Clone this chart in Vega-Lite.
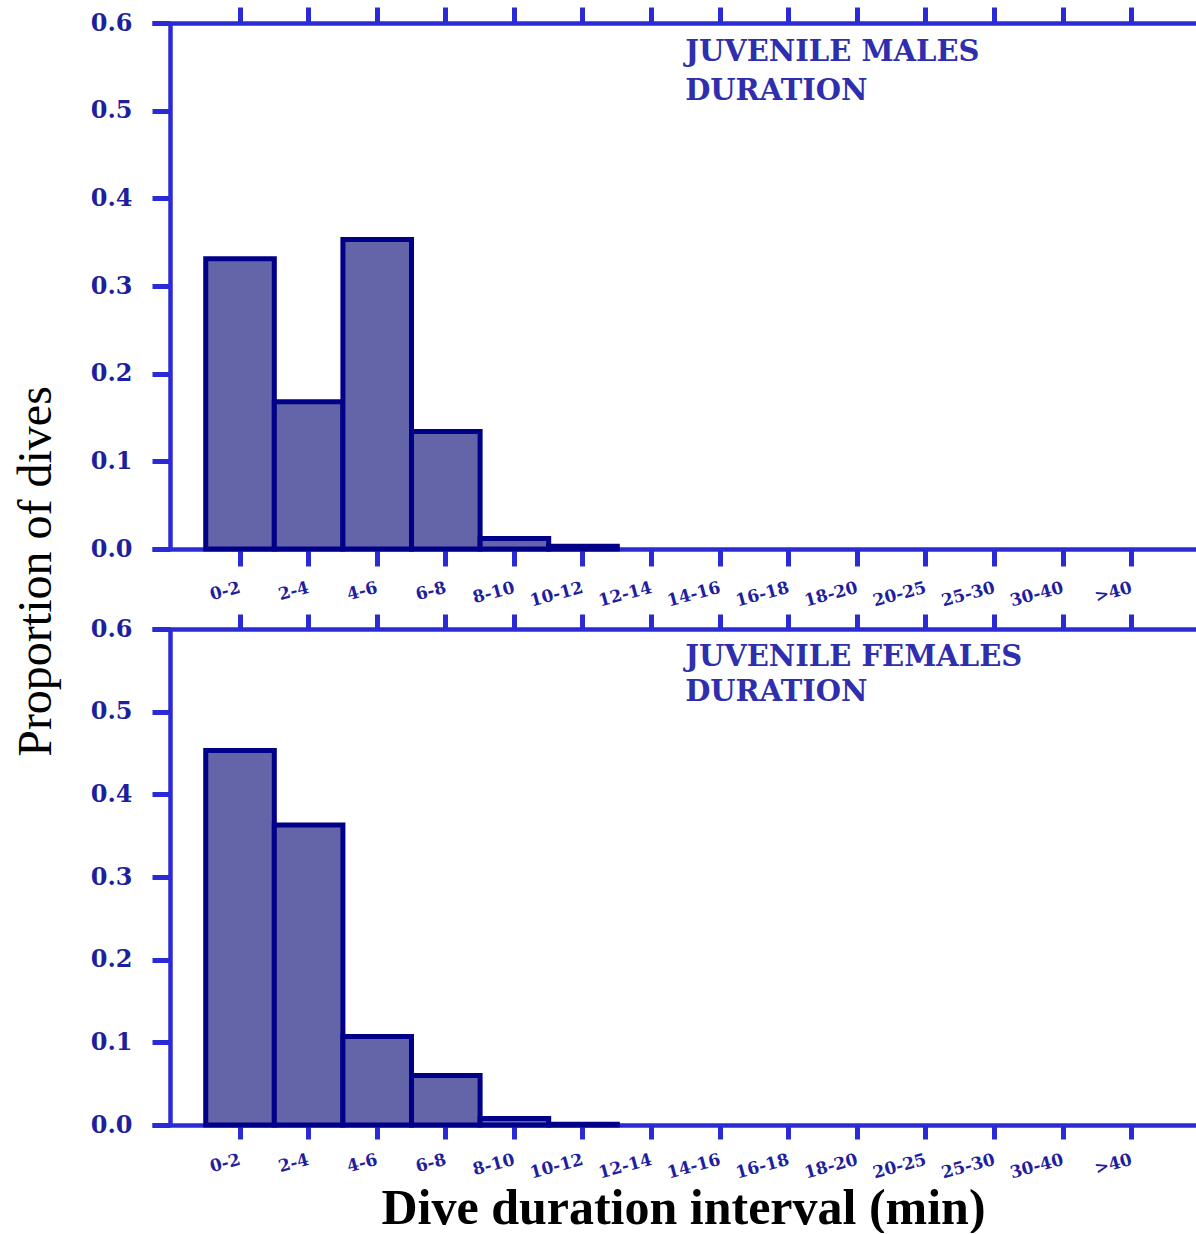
{
  "$schema": "https://vega.github.io/schema/vega-lite/v6.json",
  "background": "white",
  "padding": {"left": 12, "top": 4, "right": 0, "bottom": 0},
  "config": {
    "view": {"stroke": null},
    "axis": {
      "grid": false,
      "domainColor": "#2b2bd6",
      "tickColor": "#2b2bd6",
      "domainWidth": 4.5,
      "tickWidth": 5,
      "labelColor": "#1f1f9e",
      "labelFont": "DejaVu Serif",
      "labelFontWeight": "bold"
    }
  },
  "datasets": {
    "males": [
      {"interval": "0-2", "proportion": 0.331},
      {"interval": "2-4", "proportion": 0.168},
      {"interval": "4-6", "proportion": 0.353},
      {"interval": "6-8", "proportion": 0.134},
      {"interval": "8-10", "proportion": 0.012},
      {"interval": "10-12", "proportion": 0.003},
      {"interval": "12-14", "proportion": 0},
      {"interval": "14-16", "proportion": 0},
      {"interval": "16-18", "proportion": 0},
      {"interval": "18-20", "proportion": 0},
      {"interval": "20-25", "proportion": 0},
      {"interval": "25-30", "proportion": 0},
      {"interval": "30-40", "proportion": 0},
      {"interval": ">40", "proportion": 0}
    ],
    "females": [
      {"interval": "0-2", "proportion": 0.453},
      {"interval": "2-4", "proportion": 0.363},
      {"interval": "4-6", "proportion": 0.107},
      {"interval": "6-8", "proportion": 0.06},
      {"interval": "8-10", "proportion": 0.008},
      {"interval": "10-12", "proportion": 0.001},
      {"interval": "12-14", "proportion": 0},
      {"interval": "14-16", "proportion": 0},
      {"interval": "16-18", "proportion": 0},
      {"interval": "18-20", "proportion": 0},
      {"interval": "20-25", "proportion": 0},
      {"interval": "25-30", "proportion": 0},
      {"interval": "30-40", "proportion": 0},
      {"interval": ">40", "proportion": 0}
    ],
    "noteMales": [{"label": ["JUVENILE MALES", "DURATION"]}],
    "noteFemales": [{"label": ["JUVENILE FEMALES", "DURATION"]}]
  },
  "spacing": 80,
  "bounds": "flush",
  "vconcat": [
    {
      "width": 1044,
      "height": 526,
      "resolve": {"axis": {"x": "independent"}},
      "layer": [
        {
          "data": {"name": "males"},
          "mark": {"type": "bar", "fill": "#6464a8", "stroke": "#000088"},
          "encoding": {
            "x": {
              "field": "interval", "type": "nominal", "sort": null,
              "scale": {"domain": ["0-2","2-4","4-6","6-8","8-10","10-12","12-14","14-16","16-18","18-20","20-25","25-30","30-40",">40"], "paddingInner": 0, "paddingOuter": 0.61, "align": 0.642},
              "axis": {"orient": "bottom", "title": null, "labelAngle": -15, "labelAlign": "right", "labelBaseline": "middle", "labelFontSize": 17, "tickSize": 17, "labelPadding": 21}
            },
            "y": {
              "field": "proportion", "type": "quantitative",
              "scale": {"domain": [0, 0.6], "nice": false},
              "axis": {"orient": "left", "values": [0, 0.1, 0.2, 0.3, 0.4, 0.5, 0.6], "format": ".1f", "offset": -18, "tickSize": 18, "labelPadding": 20, "labelFontSize": 24,
                       "title": "Proportion of dives", "titleX": -120, "titleY": 548, "titleFont": "Liberation Serif", "titleFontSize": 48, "titleFontWeight": "normal", "titleColor": "black", "titleBaseline": "alphabetic", "titleAngle": -90, "titleAlign": "center"}
            },
            "strokeWidth": {"condition": {"test": "datum.proportion > 0", "value": 5}, "value": 0}
          }
        },
        {
          "data": {"name": "noteMales"},
          "mark": {"type": "text", "font": "DejaVu Serif", "fontWeight": "bold", "fontSize": 29, "color": "#2f2fae", "align": "left", "baseline": "alphabetic", "lineHeight": 39, "dx": -35},
          "encoding": {
            "x": {"datum": "14-16", "type": "nominal", "axis": {"orient": "top", "labels": false, "title": null, "tickSize": 16}},
            "y": {"datum": 0.557, "type": "quantitative",
                  "axis": {"orient": "left", "values": [0, 0.1, 0.2, 0.3, 0.4, 0.5, 0.6], "format": ".1f", "offset": -18, "tickSize": 18, "labelPadding": 20, "labelFontSize": 24,
                       "title": "Proportion of dives", "titleX": -120, "titleY": 548, "titleFont": "Liberation Serif", "titleFontSize": 48, "titleFontWeight": "normal", "titleColor": "black", "titleBaseline": "alphabetic", "titleAngle": -90, "titleAlign": "center"}},
            "text": {"field": "label"}
          }
        }
      ]
    },
    {
      "width": 1044,
      "height": 496,
      "resolve": {"axis": {"x": "independent"}},
      "layer": [
        {
          "data": {"name": "females"},
          "mark": {"type": "bar", "fill": "#6464a8", "stroke": "#000088"},
          "encoding": {
            "x": {
              "field": "interval", "type": "nominal", "sort": null,
              "scale": {"domain": ["0-2","2-4","4-6","6-8","8-10","10-12","12-14","14-16","16-18","18-20","20-25","25-30","30-40",">40"], "paddingInner": 0, "paddingOuter": 0.61, "align": 0.642},
              "axis": {"orient": "bottom", "labelAngle": -15, "labelAlign": "right", "labelBaseline": "middle", "labelFontSize": 17, "tickSize": 14, "labelPadding": 20,
                       "title": "Dive duration interval (min)", "titleFont": "Liberation Serif", "titleFontSize": 50, "titleFontWeight": "bold", "titleColor": "black", "titleX": 531, "titleY": 98, "titleBaseline": "alphabetic", "titleAlign": "center"}
            },
            "y": {
              "field": "proportion", "type": "quantitative",
              "scale": {"domain": [0, 0.6], "nice": false},
              "axis": {"orient": "left", "values": [0, 0.1, 0.2, 0.3, 0.4, 0.5, 0.6], "format": ".1f", "offset": -18, "tickSize": 18, "labelPadding": 20, "labelFontSize": 24, "title": null}
            },
            "strokeWidth": {"condition": {"test": "datum.proportion > 0", "value": 5}, "value": 0}
          }
        },
        {
          "data": {"name": "noteFemales"},
          "mark": {"type": "text", "font": "DejaVu Serif", "fontWeight": "bold", "fontSize": 29, "color": "#2f2fae", "align": "left", "baseline": "alphabetic", "lineHeight": 35, "dx": -35},
          "encoding": {
            "x": {"datum": "14-16", "type": "nominal", "axis": {"orient": "top", "labels": false, "title": null, "tickSize": 15}},
            "y": {"datum": 0.555, "type": "quantitative",
                  "axis": {"orient": "left", "values": [0, 0.1, 0.2, 0.3, 0.4, 0.5, 0.6], "format": ".1f", "offset": -18, "tickSize": 18, "labelPadding": 20, "labelFontSize": 24, "title": null}},
            "text": {"field": "label"}
          }
        }
      ]
    }
  ]
}
